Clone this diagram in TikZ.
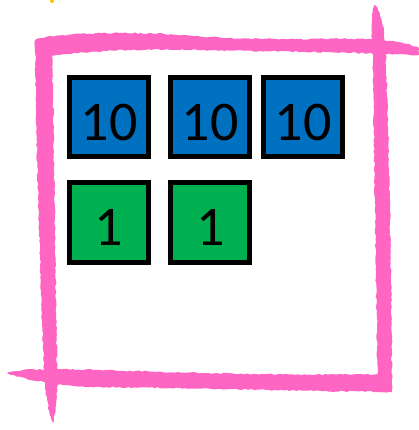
\documentclass[tikz,border=0pt]{standalone}
\usepackage{fontspec}
\setmainfont{Carlito}
\usetikzlibrary{decorations.pathmorphing}
\definecolor{tenblue}{HTML}{0070C0}
\definecolor{onegreen}{HTML}{00B050}
\definecolor{brushpink}{HTML}{FF66C4}
\definecolor{dotyellow}{HTML}{FFC000}
\tikzset{
  tilebox/.style={draw=black, line width=5pt, minimum width=79pt, minimum height=79pt, inner sep=0pt, font=\fontsize{56}{56}\selectfont},
  tenbox/.style={tilebox, fill=tenblue},
  onebox/.style={tilebox, fill=onegreen},
  brush/.style={fill=brushpink, draw=none, decorate, decoration={random steps, segment length=3pt, amplitude=0.7pt}}
}
\newcommand{\tiletext}[1]{\raisebox{-5.7pt}[35.4pt][0pt]{#1}}
\begin{document}
\begin{tikzpicture}[x=1pt,y=-1pt]
\useasboundingbox (0,0) rectangle (419,430);
\pgfmathsetseed{7}
% yellow speck
\fill[dotyellow] (52,1) circle (2);
% top stroke
\path[brush] (36,39) .. controls (70,32) and (140,31) .. (210,37) .. controls (280,41) and (340,38) .. (372,39) .. controls (395,41) and (410,44) .. (419,48) -- (419,55) .. controls (390,54) and (330,52) .. (260,51) .. controls (190,50) and (120,47) .. (60,55) -- (36,57) -- cycle;
% left stroke
\path[brush] (35,40) -- (52,40) .. controls (54,150) and (56,300) .. (57,370) .. controls (58,395) and (56,410) .. (53,423) .. controls (48,410) and (45,395) .. (44,370) .. controls (41,300) and (36,150) .. (35,40) -- cycle;
% right stroke
\path[brush] (375,5) .. controls (381,12) and (385,30) .. (386,60) .. controls (389,150) and (392,300) .. (392,392) -- (378,392) .. controls (376,300) and (374,150) .. (373,60) .. controls (371,30) and (371,12) .. (375,5) -- cycle;
% bottom stroke
\path[brush] (7,373) .. controls (20,368) and (60,369) .. (100,370) .. controls (200,373) and (300,376) .. (392,374) -- (392,392) .. controls (300,391) and (200,388) .. (100,387) .. controls (60,386) and (25,380) .. (7,373) -- cycle;
% tiles
\node[tenbox] (t1) at (109,117.3) {\tiletext{10}};
\node[tenbox] (t2) at (210.3,117.3) {\tiletext{10}};
\node[tenbox] (t3) at (303.3,117.3) {\tiletext{10}};
\node[onebox] (o1) at (109,222.5) {\tiletext{1}};
\node[onebox] (o2) at (210.3,222.5) {\tiletext{1}};
\end{tikzpicture}
\end{document}
